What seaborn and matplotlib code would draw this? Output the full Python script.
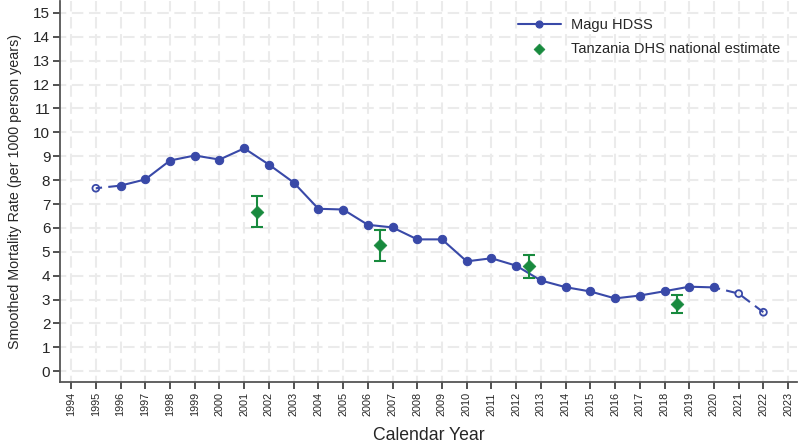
import matplotlib
matplotlib.use("Agg")
import matplotlib.pyplot as plt
import seaborn as sns
import pandas as pd
import numpy as np

years = list(range(1995, 2023))
rate = [7.66, 7.77, 8.03, 8.82, 9.03, 8.86, 9.33, 8.65, 7.90, 6.80, 6.77, 6.13, 6.02,
        5.52, 5.52, 4.60, 4.73, 4.42, 3.80, 3.52, 3.34, 3.05, 3.17, 3.35, 3.54, 3.51,
        3.25, 2.47]
# years whose points are shown as open (incomplete) estimates
open_years = [1995, 2021, 2022]

dhs_year = [2001.5, 2006.5, 2012.5, 2018.5]
dhs_est = [6.67, 5.27, 4.39, 2.83]
dhs_lo = [6.05, 4.63, 3.90, 2.45]
dhs_hi = [7.33, 5.92, 4.88, 3.20]

x_ticks = list(range(1994, 2024))
y_ticks = list(range(0, 16))

blue = "#3949a8"
green = "#188a3e"

sns.set_style("white")
plt.rcParams['font.family'] = ['Liberation Sans', 'DejaVu Sans']

fig = plt.figure(figsize=(8, 4.44), dpi=100)
ax = fig.add_axes([0.075, 0.139, 0.921, 0.859])

df = pd.DataFrame({"year": years, "rate": rate})
solid = df[(df.year >= 1996) & (df.year <= 2020)]
dash1 = df[(df.year >= 1995) & (df.year <= 1996)]
dash2 = df[(df.year >= 2020) & (df.year <= 2022)]

for seg in (dash1, dash2):
    sns.lineplot(data=seg, x="year", y="rate", ax=ax, color=blue, lw=1.5,
                 linestyle=(2, (5, 3)), zorder=3)
sns.lineplot(data=solid, x="year", y="rate", ax=ax, color=blue, lw=1.5,
             marker="o", markersize=6, markeredgecolor=blue, zorder=4,
             label="Magu HDSS")
opn = df[df.year.isin(open_years)]
ax.scatter(opn.year, opn.rate, s=24, facecolor="none", edgecolor=blue,
           linewidth=1.3, zorder=5)

ddf = pd.DataFrame({"year": dhs_year, "est": dhs_est})
ax.errorbar(dhs_year, dhs_est,
            yerr=[np.array(dhs_est) - np.array(dhs_lo), np.array(dhs_hi) - np.array(dhs_est)],
            fmt="none", ecolor=green, elinewidth=1.5, capsize=4, capthick=1.5, zorder=4)
sns.scatterplot(data=ddf, x="year", y="est", ax=ax, marker="D", s=42, color=green,
                edgecolor=green, zorder=6, label="Tanzania DHS national estimate")

ax.set_xlim(1993.55, 2023.35)
ax.set_ylim(-0.46, 15.5)
ax.set_xticks(x_ticks)
ax.set_xticklabels([str(t) for t in x_ticks], rotation=90, fontsize=7.8)
ax.set_yticks(y_ticks)
ax.set_yticklabels([str(t) for t in y_ticks], fontsize=11)
ax.grid(True, color="#ebebeb", lw=1.5, linestyle=(2.5, (5.5, 2.7)))
ax.set_axisbelow(True)
ax.tick_params(axis="both", direction="out", length=5, width=1.2, color="#333333",
               left=True, bottom=True, pad=2)
for s in ("top", "right"):
    ax.spines[s].set_visible(False)
for s in ("left", "bottom"):
    ax.spines[s].set_color("#555555")
    ax.spines[s].set_linewidth(1.3)

ax.set_xlabel("Calendar Year", fontsize=12.7, labelpad=8)
ax.set_ylabel("Smoothed Mortality Rate (per 1000 person years)", fontsize=10.3, labelpad=8)

leg = ax.legend(loc="upper left", bbox_to_anchor=(0.618, 0.962), frameon=False,
                fontsize=10.5, handlelength=2.9, handletextpad=0.7, borderpad=0.2,
                borderaxespad=0, labelspacing=0.68, markerscale=0.85)

fig.savefig("out.png", dpi=100)
